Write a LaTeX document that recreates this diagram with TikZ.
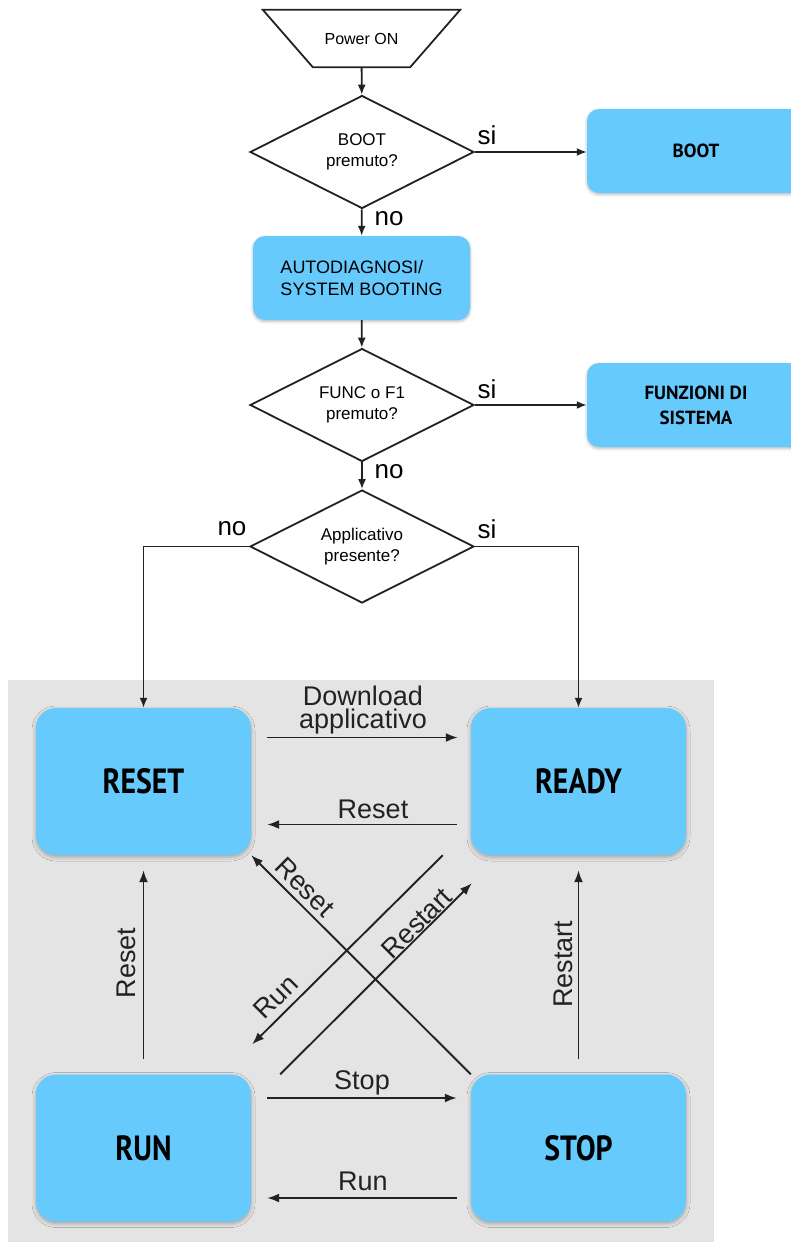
\documentclass[tikz,border=0pt]{standalone}
\usepackage{fontspec}
\usepackage{graphicx}
\setmainfont{Liberation Sans}
\newfontfamily\boxfont{PT Sans}
\usetikzlibrary{shapes.geometric,arrows.meta,calc,shadows.blur}
\definecolor{boxblue}{HTML}{66CAFD}
\definecolor{bggray}{HTML}{E4E4E4}
\definecolor{ink}{HTML}{222222}
\newcommand{\narrowtxt}[1]{\scalebox{0.85}[1]{#1}}
\begin{document}
\begin{tikzpicture}[x=1pt,y=-1pt,
  flow/.style={draw=ink, line width=1.8pt, -{Latex[length=10pt,width=8pt]}},
  sarr/.style={draw=ink, line width=1.9pt, -{Latex[length=12pt,width=9pt]}},
  trapline/.style={draw=ink, line width=1.8pt, line join=miter},
  dec/.style={diamond, aspect=2, minimum width=224pt, minimum height=113pt, inner sep=0pt,
    draw=ink, line width=1.8pt, fill=white, align=center, font=\fontsize{17}{21}\selectfont},
  fbox/.style={rectangle, rounded corners=12pt, fill=boxblue, minimum height=84pt,
    blur shadow={shadow xshift=0pt, shadow yshift=-1.5pt, shadow blur radius=3pt, shadow opacity=28}},
  sbox/.style={rectangle, rounded corners=20pt, fill=boxblue, minimum width=215pt, minimum height=147pt,
    blur shadow={shadow xshift=0pt, shadow yshift=-2pt, shadow blur radius=4pt, shadow opacity=30},
    font=\boxfont\bfseries\fontsize{35}{40}\selectfont},
  yn/.style={font=\fontsize{26}{30}\selectfont, inner sep=0pt},
  lbl/.style={font=\fontsize{27}{23}\selectfont, inner sep=0pt, text=ink, align=center}
]
\useasboundingbox (0,0) rectangle (791,1245);
\fill[bggray] (8,680) rectangle (714,1242);

% flowchart
\node[minimum width=97pt, minimum height=57pt, inner sep=0pt, font=\fontsize{16}{19}\selectfont] (pw) at (361.5,38.5) {Power ON};
\draw[trapline] ($(pw.north west)+(-50,0)$) -- ($(pw.north east)+(50,0)$) -- (pw.south east) -- (pw.south west) -- cycle;
\node[dec] (d1) at (362,152) {BOOT\\premuto?};
\node[fbox, minimum width=218pt, font=\boxfont\bfseries\fontsize{19}{24}\selectfont] (boot) at (696,151) {BOOT};
\node[fbox, minimum width=217pt, align=left, font=\fontsize{18}{22}\selectfont] (auto) at (361.5,278) {AUTODIAGNOSI/\\SYSTEM BOOTING};
\node[dec] (d2) at (362,405) {FUNC o F1\\premuto?};
\node[fbox, minimum width=218pt, align=center, font=\boxfont\bfseries\fontsize{19}{25}\selectfont] (funz) at (696,405) {FUNZIONI DI\\SISTEMA};
\node[dec] (d3) at (362,546.5) {Applicativo\\presente?};

\node[yn] (si1) at (487,135) {si};
\node[yn] (no1) at (389,219) {no};
\node[yn] (si2) at (487,389) {si};
\node[yn] (no2) at (389,472) {no};
\node[yn] (no3) at (232,529) {no};
\node[yn] (si3) at (487,529) {si};

% states
\node[sbox] (reset) at (143.5,781.5) {\narrowtxt{RESET}};
\node[sbox] (ready) at (578.5,781.5) {\narrowtxt{READY}};
\node[sbox] (run) at (143.5,1148) {\narrowtxt{RUN}};
\node[sbox] (stop) at (578.5,1148) {\narrowtxt{STOP}};

% flow arrows
\draw[flow] (pw) -- (d1);
\draw[flow] (d1.east) -- (d1.east -| boot.west);
\draw[flow] (d1) -- (auto);
\draw[flow] (auto) -- (d2);
\draw[flow] (d2.east) -- (d2.east -| funz.west);
\draw[flow] (d2) -- (d3);
\draw[flow] (d3.west) -| (reset.north);
\draw[flow] (d3.east) -| (ready.north);

% state arrows
\draw[sarr] ($(reset.east)+(16,-44)$) -- ($(ready.west)+(-13,-44)$);
\node[lbl] (ldl) at (363,710) {Download\\applicativo};
\draw[sarr] ($(ready.west)+(-14,43)$) -- ($(reset.east)+(16,43)$);
\node[lbl] (lrs1) at (373,809) {Reset};
\draw[sarr] ($(run.east)+(16,-50)$) -- ($(stop.west)+(-14,-50)$);
\node[lbl] (lstop) at (362,1083) {Stop};
\draw[sarr] ($(stop.west)+(-14,50)$) -- ($(run.east)+(16,50)$);
\node[lbl] (lrun1) at (363,1181) {Run};
\draw[sarr] ($(run.north)+(0,-15)$) -- ($(reset.south)+(0,15)$);
\node[lbl, rotate=90] (lrs2) at (126,963) {Reset};
\draw[sarr] ($(stop.north)+(0,-15)$) -- ($(ready.south)+(0,15)$);
\node[lbl, rotate=90] (lrst1) at (563,964) {Restart};
\draw[sarr] (stop.north west) -- (reset.south east);
\node[lbl, rotate=-45] (lrs3) at (305,887) {Reset};
\draw[sarr] ($(ready.south west)+(-28,0)$) -- ($(run.north east)+(1,-30)$);
\node[lbl, rotate=45] (lrun2) at (276,997) {Run};
\draw[sarr] ($(run.north east)+(29,0)$) -- ($(ready.south west)+(1,28)$);
\node[lbl, rotate=45] (lrst2) at (417,923) {Restart};
\end{tikzpicture}
\end{document}
